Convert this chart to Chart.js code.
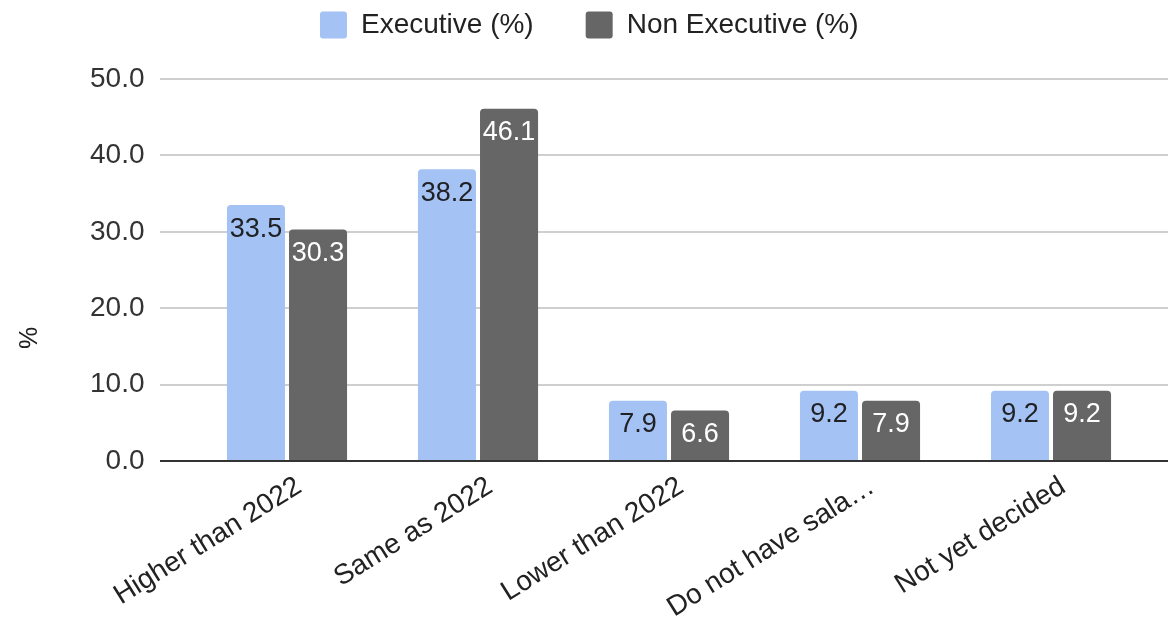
<!DOCTYPE html>
<html><head><meta charset="utf-8">
<script src="https://cdn.jsdelivr.net/npm/chart.js@4/dist/chart.umd.min.js"></script>
<style>html,body{margin:0;padding:0;background:#fff;}#wrap{width:1168px;height:619px;}</style>
</head><body><div id="wrap"><canvas id="c" width="1168" height="619"></canvas></div>
<script>
const categories = ["Higher than 2022", "Same as 2022", "Lower than 2022", "Do not have sala\u2026", "Not yet decided"];
const executive = [33.5, 38.2, 7.9, 9.2, 9.2];
const nonExecutive = [30.3, 46.1, 6.6, 7.9, 9.2];
const seriesNames = ["Executive (%)", "Non Executive (%)"];
const yTicks = [0, 10, 20, 30, 40, 50];
const yTitle = "%";

const FONT = '"Liberation Sans", Arial, sans-serif';
const colors = ['#a4c2f4', '#666666'];
const labelColors = ['#202124', '#ffffff'];
const LEGEND_PAD = 52;

const decor = {
  id: 'decor',
  beforeInit(chart) {
    const fit = chart.legend.fit;
    chart.legend.fit = function () { fit.call(this); this.height = 79; };
  },
  afterLayout(chart) {
    const lg = chart.legend;
    lg.top = 11 - LEGEND_PAD;
    lg.left += 16;
    lg.right += 16;
  },
  beforeDatasetsDraw(chart) {
    const ctx = chart.ctx, ys = chart.scales.y, ca = chart.chartArea;
    ctx.save();
    ctx.strokeStyle = '#cfcfcf';
    ctx.lineWidth = 2;
    ys.ticks.forEach(t => {
      if (t.value === 0) return;
      const py = Math.round(ys.getPixelForValue(t.value));
      ctx.beginPath(); ctx.moveTo(ca.left - 31.5, py); ctx.lineTo(chart.width, py); ctx.stroke();
    });
    ctx.translate(30, 338);
    ctx.rotate(-Math.PI / 2);
    ctx.font = '25px ' + FONT;
    ctx.fillStyle = '#222';
    ctx.textAlign = 'center';
    ctx.textBaseline = 'middle';
    ctx.fillText(yTitle, 0, 0);
    ctx.restore();
  },
  afterDatasetsDraw(chart) {
    const ctx = chart.ctx, ys = chart.scales.y, ca = chart.chartArea;
    ctx.save();
    const py = Math.round(ys.getPixelForValue(0));
    ctx.strokeStyle = '#333333';
    ctx.lineWidth = 2;
    ctx.beginPath(); ctx.moveTo(ca.left - 31.5, py); ctx.lineTo(chart.width, py); ctx.stroke();
    ctx.font = '27px ' + FONT;
    ctx.textAlign = 'center';
    ctx.textBaseline = 'middle';
    ctx.lineJoin = 'round';
    chart.data.datasets.forEach((ds, i) => {
      const meta = chart.getDatasetMeta(i);
      meta.data.forEach((bar, j) => {
        const txt = ds.data[j].toFixed(1);
        const x = bar.x, y = bar.y + 24;
        ctx.lineWidth = 6;
        ctx.strokeStyle = colors[i];
        ctx.strokeText(txt, x, y);
        ctx.fillStyle = labelColors[i];
        ctx.fillText(txt, x, y);
      });
    });
    ctx.restore();
  }
};

new Chart(document.getElementById('c'), {
  type: 'bar',
  data: {
    labels: categories,
    datasets: [
      { label: seriesNames[0], data: executive, backgroundColor: colors[0], borderRadius: 4, borderSkipped: 'start', categoryPercentage: 0.65, barPercentage: 0.935 },
      { label: seriesNames[1], data: nonExecutive, backgroundColor: colors[1], borderRadius: 4, borderSkipped: 'start', categoryPercentage: 0.65, barPercentage: 0.935 }
    ]
  },
  options: {
    responsive: false,
    animation: false,
    devicePixelRatio: 1,
    layout: { padding: { top: 0, left: 0, right: 21.5, bottom: 0 } },
    plugins: {
      legend: {
        position: 'top',
        labels: {
          boxWidth: 27, boxHeight: 27, padding: LEGEND_PAD,
          useBorderRadius: true, borderRadius: 3,
          font: { size: 28, family: FONT }, color: '#222'
        }
      },
      tooltip: { enabled: false }
    },
    scales: {
      x: {
        offset: true,
        grid: { display: false },
        border: { display: false },
        ticks: {
          font: { size: 28, family: FONT }, color: '#222',
          minRotation: 32, maxRotation: 32, autoSkip: false,
          padding: 1, labelOffset: 12
        },
        afterFit: s => { s.height = 158; }
      },
      y: {
        min: 0, max: 50,
        grid: { display: false, drawTicks: false },
        border: { display: false },
        ticks: {
          font: { size: 28, family: FONT }, color: '#333',
          padding: 47,
          callback: v => Number(v).toFixed(1)
        },
        afterBuildTicks: s => { s.ticks = yTicks.map(v => ({ value: v })); },
        afterFit: s => { s.width = 191.5; }
      }
    }
  },
  plugins: [decor]
});
</script></body></html>
